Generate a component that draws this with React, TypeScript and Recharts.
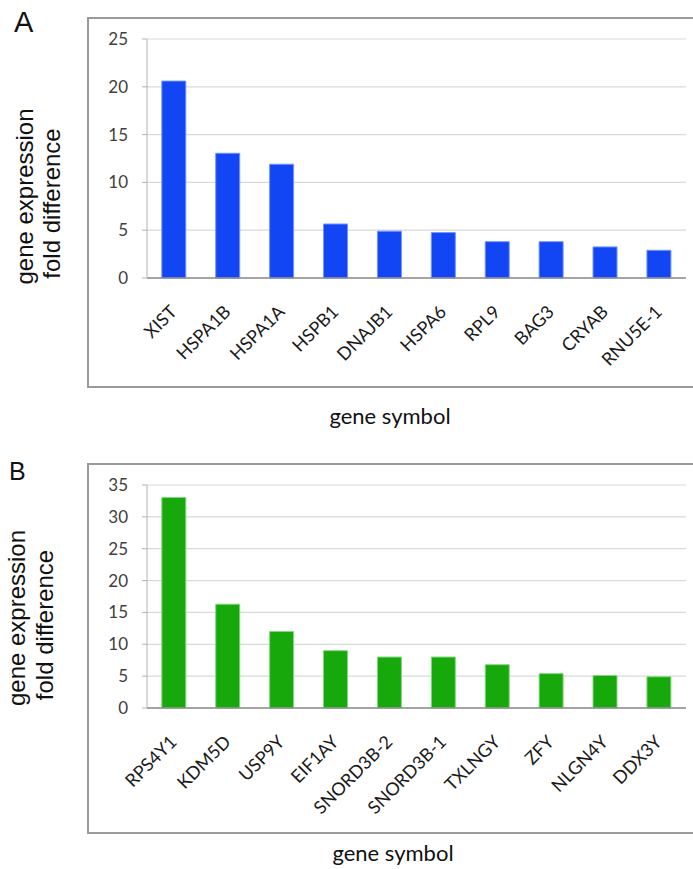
import React from 'react';
import { BarChart, Bar, XAxis, YAxis, CartesianGrid, Label } from 'recharts';

const genesA = ['XIST', 'HSPA1B', 'HSPA1A', 'HSPB1', 'DNAJB1', 'HSPA6', 'RPL9', 'BAG3', 'CRYAB', 'RNU5E-1'];
const valuesA = [20.6, 13.05, 11.9, 5.65, 4.9, 4.75, 3.8, 3.8, 3.25, 2.9];
const ticksA = [0, 5, 10, 15, 20, 25];

const genesB = ['RPS4Y1', 'KDM5D', 'USP9Y', 'EIF1AY', 'SNORD3B-2', 'SNORD3B-1', 'TXLNGY', 'ZFY', 'NLGN4Y', 'DDX3Y'];
const valuesB = [33.05, 16.3, 12.0, 9.0, 8.0, 8.0, 6.8, 5.4, 5.1, 4.9];
const ticksB = [0, 5, 10, 15, 20, 25, 30, 35];

const yTitle = ['gene expression', 'fold difference'];
const xTitle = 'gene symbol';

const dataA = genesA.map((g, i) => ({ gene: g, value: valuesA[i] }));
const dataB = genesB.map((g, i) => ({ gene: g, value: valuesB[i] }));

const LABEL_FONT = 'Lato, "Open Sans", sans-serif';
const TITLE_FONT = '"Liberation Sans", Arial, sans-serif';

const RotTick = (props: any) => {
  const { x, y, payload } = props;
  return (
    <g transform={`translate(${x + 4},${y + 35})`}>
      <text x={0} y={0} textAnchor="end" transform="rotate(-45)" fontFamily={LABEL_FONT} fontSize={18} fill="#1a1a1a">
        {payload.value}
      </text>
    </g>
  );
};

type PanelProps = {
  data: { gene: string; value: number }[];
  ticks: number[];
  height: number;
  top: number;
  plotH: number;
  fill: string;
  stroke: string;
  yT: { x1: number; y1: number; x2: number; y2: number };
  xT: { x: number; y: number };
};

const Panel = ({ data, ticks, height, top, plotH, fill, stroke, yT, xT }: PanelProps) => (
  <BarChart
    width={693}
    height={height}
    data={data}
    margin={{ top, right: 7, left: 88, bottom: 0 }}
    barCategoryGap="27.5%"
  >
    <CartesianGrid vertical={false} stroke="#d9d9d9" strokeWidth={1.2} />
    <XAxis
      dataKey="gene"
      interval={0}
      tickLine={false}
      tickSize={0}
      tickMargin={0}
      axisLine={{ stroke: '#8c8c8c', strokeWidth: 1.5 }}
      height={height - top - plotH}
      tick={<RotTick />}
    >
      <Label
        content={() => (
          <text x={xT.x} y={xT.y} textAnchor="middle" fontFamily={LABEL_FONT} fontSize={22} fill="#111">
            {xTitle}
          </text>
        )}
      />
    </XAxis>
    <YAxis
      width={59}
      domain={[0, ticks[ticks.length - 1]]}
      ticks={ticks}
      interval={0}
      tickSize={5}
      tickMargin={14}
      axisLine={{ stroke: '#b3b3b3' }}
      tickLine={{ stroke: '#b3b3b3' }}
      tick={{ fontFamily: LABEL_FONT, fontSize: 17, fill: '#404040' }}
    >
      <Label
        content={() => (
          <g fontFamily={TITLE_FONT} fontSize={24} fill="#111">
            <text x={yT.x1} y={yT.y1} textAnchor="middle" transform={`rotate(-90, ${yT.x1}, ${yT.y1})`}>
              {yTitle[0]}
            </text>
            <text x={yT.x2} y={yT.y2} textAnchor="middle" transform={`rotate(-90, ${yT.x2}, ${yT.y2})`}>
              {yTitle[1]}
            </text>
          </g>
        )}
      />
    </YAxis>
    <Bar dataKey="value" fill={fill} stroke={stroke} strokeWidth={1} isAnimationActive={false} />
  </BarChart>
);

export default function App() {
  return (
    <div style={{ position: 'absolute', left: 0, top: 0, width: 693, height: 869, overflow: 'hidden', background: '#fff' }}>
      <svg width={693} height={869} style={{ position: 'absolute', left: 0, top: 0 }}>
        <path d="M 720 18 L 88 18 L 88 387 L 720 387" fill="none" stroke="#9a9a9a" strokeWidth={2} />
        <path d="M 720 464 L 88 464 L 88 833 L 720 833" fill="none" stroke="#9a9a9a" strokeWidth={2} />
        <text x={14} y={32} fontFamily={TITLE_FONT} fontSize={29} fill="#111">A</text>
        <text x={9} y={480} fontFamily={TITLE_FONT} fontSize={25} fill="#111">B</text>
      </svg>
      <div style={{ position: 'absolute', left: 0, top: 0 }}>
        <Panel
          data={dataA}
          ticks={ticksA}
          height={435}
          top={39}
          plotH={239}
          fill="#1246F5"
          stroke="#7393ff"
          yT={{ x1: 32.5, y1: 196.5, x2: 60, y2: 203.5 }}
          xT={{ x: 390, y: 424 }}
        />
      </div>
      <div style={{ position: 'absolute', left: 0, top: 435 }}>
        <Panel
          data={dataB}
          ticks={ticksB}
          height={434}
          top={50}
          plotH={223}
          fill="#17A80B"
          stroke="#86d880"
          yT={{ x1: 24.5, y1: 183, x2: 53, y2: 190 }}
          xT={{ x: 393, y: 426 }}
        />
      </div>
    </div>
  );
}
